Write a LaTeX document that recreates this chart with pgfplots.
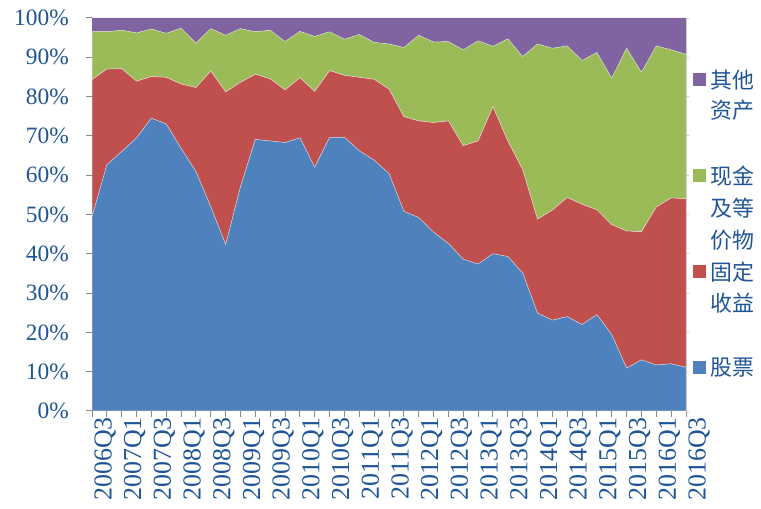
\documentclass[border=0pt]{standalone}
\usepackage{pgfplots}
\pgfplotsset{compat=1.18}
\usepackage{pgfplotstable}
\usepackage{fontspec}
\setmainfont{Liberation Serif}
\newfontfamily\cjk{Noto Sans CJK SC}
\definecolor{cstock}{HTML}{4F81BD}
\definecolor{cfixed}{HTML}{C0504D}
\definecolor{ccash}{HTML}{9BBB59}
\definecolor{cother}{HTML}{8064A2}
\definecolor{ctext}{HTML}{1F5597}
\definecolor{caxis}{HTML}{898989}
\pgfplotstableread{
i stock fixed cash other
0 49.4 34.9 12.2 3.5
1 62.6 24.4 9.5 3.5
2 66.0 21.1 9.8 3.1
3 69.5 14.4 12.3 3.8
4 74.5 10.6 12.1 2.8
5 73.0 11.9 11.2 3.9
6 66.8 16.4 14.2 2.6
7 60.9 21.4 11.3 6.4
8 51.9 34.6 10.8 2.7
9 42.3 38.9 14.4 4.4
10 57.0 26.6 13.7 2.7
11 69.1 16.6 10.8 3.5
12 68.7 15.8 12.4 3.1
13 68.3 13.4 12.3 6.0
14 69.5 15.3 11.8 3.4
15 62.0 19.3 14.0 4.7
16 69.6 17.0 9.9 3.5
17 69.6 15.8 9.2 5.4
18 66.2 18.7 10.9 4.2
19 63.8 20.6 9.4 6.2
20 60.4 21.5 11.5 6.6
21 50.8 24.1 17.6 7.5
22 49.2 24.6 21.8 4.4
23 45.5 27.9 20.5 6.1
24 42.6 31.2 20.2 6.0
25 38.6 28.9 24.4 8.1
26 37.4 31.3 25.5 5.8
27 40.0 37.4 15.4 7.2
28 39.3 29.4 26.0 5.3
29 35.1 26.3 28.8 9.8
30 24.9 23.9 44.6 6.6
31 23.1 28.0 41.2 7.7
32 24.0 30.3 38.6 7.1
33 22.0 30.6 36.6 10.8
34 24.5 26.7 40.0 8.8
35 19.4 28.0 37.3 15.3
36 10.9 34.9 46.5 7.7
37 13.0 32.6 40.6 13.8
38 11.7 40.2 41.0 7.1
39 12.0 42.2 37.7 8.1
40 11.1 42.9 36.8 9.2
}\datatable
\begin{document}
\begin{tikzpicture}[x=1bp,y=1bp]
\useasboundingbox (0,0) rectangle (761,509);
\begin{axis}[
  at={(92bp,98bp)}, anchor=south west,
  scale only axis, width=594bp, height=393bp,
  xmin=0, xmax=40, ymin=0, ymax=100,
  stack plots=y,
  axis x line*=bottom, axis y line*=left,
  axis line style={caxis, line width=1bp},
  every tick/.style={caxis, line width=1bp},
  tick align=outside,
  major tick length=6bp, minor tick length=6bp,
  xtick={0,2,...,40},
  minor xtick={1,3,...,39},
  xticklabels={2006Q3,2007Q1,2007Q3,2008Q1,2008Q3,2009Q1,2009Q3,2010Q1,2010Q3,2011Q1,2011Q3,2012Q1,2012Q3,2013Q1,2013Q3,2014Q1,2014Q3,2015Q1,2015Q3,2016Q1,2016Q3},
  xticklabel style={rotate=90, anchor=east, inner sep=0pt, yshift=-13bp, font=\fontsize{26}{26}\selectfont, text=ctext},
  ytick={0,10,...,100},
  yticklabel={\pgfmathprintnumber{\tick}\%},
  yticklabel style={anchor=east, inner sep=0pt, xshift=-17bp, font=\fontsize{23.5}{23.5}\selectfont, text=ctext},
  /pgf/number format/assume math mode=true,
  clip=true,
]
\addplot[fill=cstock, draw=white, draw opacity=0.5, line width=0.5bp] table[x=i,y=stock]{\datatable} \closedcycle;
\addplot[fill=cfixed, draw=white, draw opacity=0.6, line width=0.5bp] table[x=i,y=fixed]{\datatable} \closedcycle;
\addplot[fill=ccash, draw=white, draw opacity=0.6, line width=0.5bp] table[x=i,y=cash]{\datatable} \closedcycle;
\addplot[fill=cother, draw=none] table[x=i,y=other]{\datatable} \closedcycle;
\end{axis}
\begin{axis}[
  at={(92bp,98bp)}, anchor=south west,
  scale only axis, width=594bp, height=393bp,
  xmin=0, xmax=40, ymin=0, ymax=100,
  axis x line=none, axis y line*=right,
  axis line style={black!20, line width=0.8bp},
  every tick/.style={black!20, line width=0.8bp},
  tick align=outside, major tick length=3bp,
  ytick={0,10,...,100}, yticklabels={},
]
\end{axis}
% legend
\fill[cother] (693,509-86) rectangle (706,509-73);
\fill[ccash]  (693,509-182) rectangle (706,509-169);
\fill[cfixed] (693,509-278) rectangle (706,509-265);
\fill[cstock] (693,509-374) rectangle (706,509-361);
\begin{scope}[every node/.style={anchor=west, inner sep=0pt, text=ctext, font=\cjk\fontsize{22}{22}\selectfont}]
\node at (710,509-80) {其他};
\node at (710,509-110) {资产};
\node at (710,509-176) {现金};
\node at (710,509-208) {及等};
\node at (710,509-240) {价物};
\node at (710,509-272) {固定};
\node at (710,509-303) {收益};
\node at (710,509-368) {股票};
\end{scope}
\end{tikzpicture}
\end{document}
